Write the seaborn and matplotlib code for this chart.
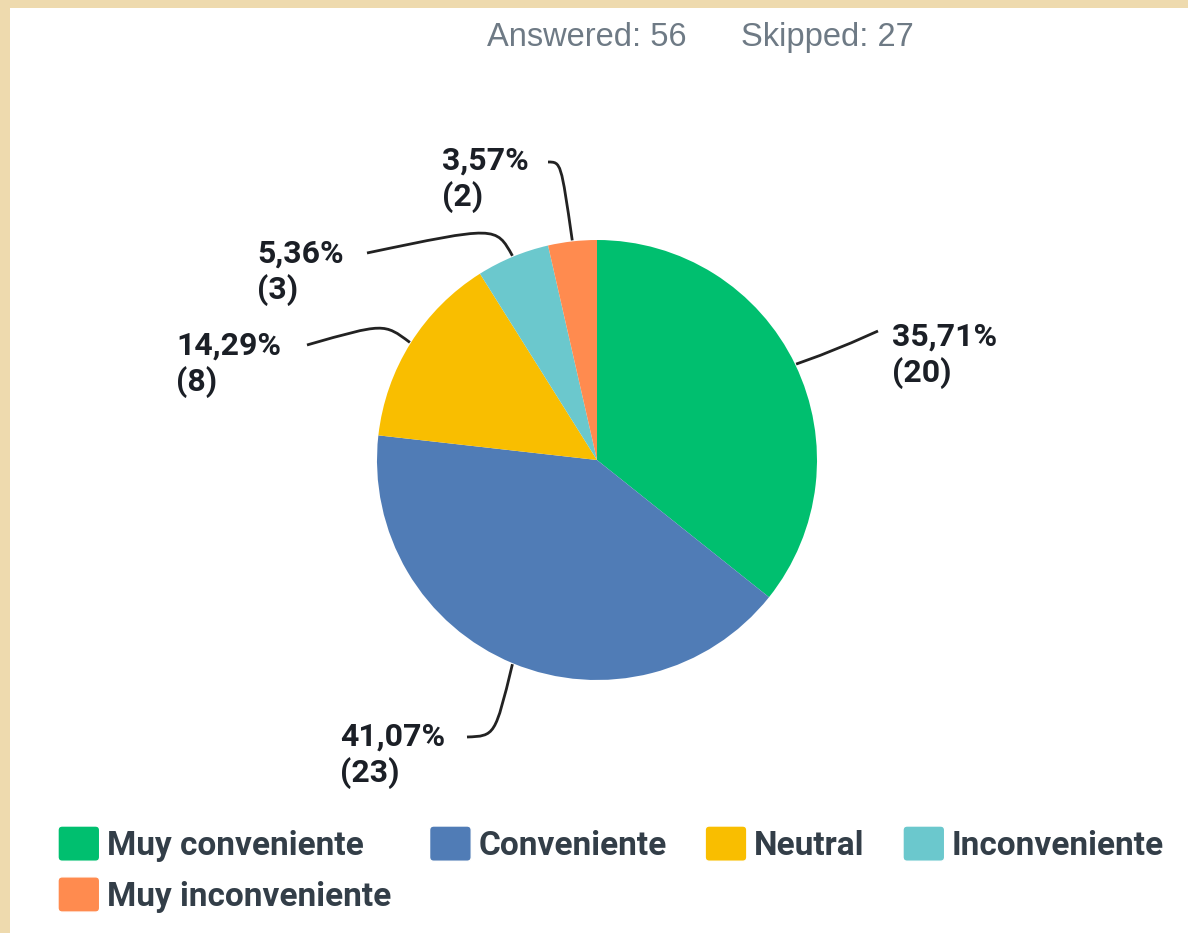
import matplotlib
matplotlib.use("Agg")
import matplotlib.pyplot as plt
import seaborn as sns
from matplotlib.patches import Rectangle, FancyBboxPatch, Patch, PathPatch
from matplotlib.path import Path
from matplotlib.legend_handler import HandlerPatch
import numpy as np

categories = ["Muy conveniente", "Conveniente", "Neutral", "Inconveniente", "Muy inconveniente"]
counts = [20, 23, 8, 3, 2]
percents = ["35,71%", "41,07%", "14,29%", "5,36%", "3,57%"]
answered = 56
skipped = 27
colors = ["#00BF6F", "#507CB6", "#F9BE00", "#6BC8CD", "#FF8B4F"]

sns.set_theme(style="white")
plt.rcParams["font.family"] = ["Roboto", "DejaVu Sans"]

W, H = 1188, 933
fig = plt.figure(figsize=(W / 100, H / 100), dpi=100)
fig.patch.set_facecolor("#EEDAAE")
ax = fig.add_axes([0, 0, 1, 1])
ax.set_facecolor("none")
ax.axis("off")


def fy(y):
    # pixel row (from top) -> data y
    return H - y


# white panel
ax.add_patch(Rectangle((10, 0), W - 10, H - 8, facecolor="white", edgecolor="none", zorder=0))

palette = sns.color_palette(colors)
cx, cy, r = 597, fy(460), 220
wedges, _ = ax.pie(counts, colors=palette, startangle=90, counterclock=False,
                   center=(cx, cy), radius=r, wedgeprops=dict(linewidth=0))

# label layout: text left x, baseline of pct line (pixel), knee, line end (pixel)
label_pos = [(892, 346), (340, 746), (176, 355), (257, 263), (442, 170)]
knees = [(835, 350), (495, 736), (384, 323), (496, 226), (561, 162)]
ends = [(878, 331), (467, 737), (307, 345), (367, 253), (548, 162)]

total = sum(counts)
start = 90.0
for i, c in enumerate(counts):
    span = 360.0 * c / total
    mid = np.deg2rad(start - span / 2)
    start -= span
    p0 = (cx + (r + 1) * np.cos(mid), cy + (r + 1) * np.sin(mid))
    k = (knees[i][0], fy(knees[i][1]))
    e = (ends[i][0], fy(ends[i][1]))
    path = Path([p0, k, k, e], [Path.MOVETO, Path.CURVE4, Path.CURVE4, Path.CURVE4])
    ax.add_patch(PathPatch(path, facecolor="none", edgecolor="#222222", lw=2, zorder=3))
    tx, ty = label_pos[i]
    ax.text(tx, fy(ty), percents[i], fontsize=23, fontweight="bold", color="#1B1F26",
            ha="left", va="baseline")
    ax.text(tx, fy(ty + 36), f"({c})", fontsize=23, fontweight="bold", color="#1B1F26",
            ha="left", va="baseline")

# header
ax.text(487, fy(46), f"Answered: {answered}", fontsize=23.5, color="#6E7A85",
        family=["Liberation Sans", "DejaVu Sans"], ha="left", va="baseline")
ax.text(741, fy(46), f"Skipped: {skipped}", fontsize=23.5, color="#6E7A85",
        family=["Liberation Sans", "DejaVu Sans"], ha="left", va="baseline")


class RoundSquare(HandlerPatch):
    def __init__(self):
        super().__init__(patch_func=self.make)

    @staticmethod
    def make(legend, orig_handle, xdescent, ydescent, width, height, fontsize):
        return FancyBboxPatch((-xdescent + 3, -ydescent + 3), width - 6, height - 6,
                              boxstyle="round,pad=3", linewidth=0)


handles = [Patch(facecolor=col, label=lab) for col, lab in zip(palette, categories)]
# legend fills column-wise; reorder so rows read left to right
order = [0, 4, 1, 2, 3]
handles = [handles[k] for k in order]
leg = ax.legend(handles=handles, loc="upper left", bbox_to_anchor=(58, fy(826)),
                bbox_transform=ax.transData, ncol=4, frameon=False,
                handler_map={Patch: RoundSquare()},
                prop=dict(family="Roboto", weight="bold", size=24),
                handlelength=1.25, handleheight=1.25, handletextpad=0.22,
                columnspacing=1.15, labelspacing=0.45, borderpad=0, borderaxespad=0)
for t in leg.get_texts():
    t.set_color("#333E48")

ax.set_xlim(0, W)
ax.set_ylim(0, H)
ax.set_aspect("auto")
fig.savefig("out.png", dpi=100, facecolor=fig.get_facecolor())
